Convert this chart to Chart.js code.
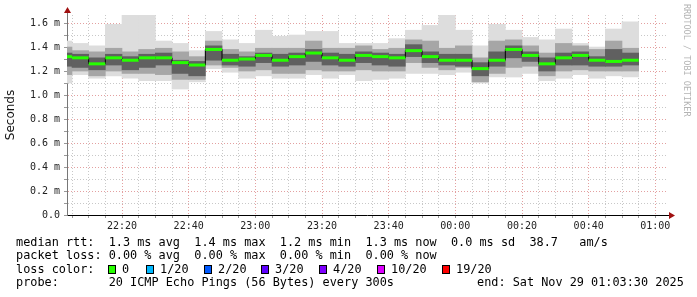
<!DOCTYPE html>
<html>
<head>
<meta charset="utf-8">
<script src="https://cdn.jsdelivr.net/npm/chart.js@4.4.1/dist/chart.umd.min.js"></script>
<style>
  html, body { margin: 0; padding: 0; background: #fff; }
  #wrap { position: relative; width: 697px; height: 297px; overflow: hidden; background: #fff; }
  #wrap canvas { position: absolute; left: 0; top: 0; }
  .txt { position: absolute; font-family: "DejaVu Sans Mono", monospace; font-size: 11.85px; line-height: 13px; color: #000; white-space: pre; }
  .box { position: absolute; width: 8px; height: 9px; border: 1px solid #000; box-sizing: border-box; }
  #credit { position: absolute; left: 682px; top: 4px; writing-mode: vertical-rl; font-family: "DejaVu Sans Mono", monospace; font-size: 8.5px; color: #b4b4b4; white-space: pre; }
</style>
</head>
<body>
<div id="wrap">
  <canvas id="graph" width="697" height="297"></canvas>
  <div id="credit">RRDTOOL / TOBI OETIKER</div>
  <div class="txt" style="left:16px;top:235.5px">median rtt:  1.3 ms avg  1.4 ms max  1.2 ms min  1.3 ms now  0.0 ms sd  38.7   am/s</div>
  <div class="txt" style="left:16px;top:249px">packet loss: 0.00 % avg  0.00 % max  0.00 % min  0.00 % now</div>
  <div class="txt" style="left:16px;top:262.5px">loss color:</div>
  <div id="losslegend"></div>
  <div class="txt" style="left:16px;top:276px">probe:       20 ICMP Echo Pings (56 Bytes) every 300s</div>
  <div class="txt" style="left:477px;top:276px">end: Sat Nov 29 01:03:30 2025</div>
</div>
<script>
// 5 minute bins (start time), values in ms
const binTimes = ['22:00','22:05','22:10','22:15','22:20','22:25','22:30','22:35','22:40','22:45',
                  '22:50','22:55','23:00','23:05','23:10','23:15','23:20','23:25','23:30','23:35',
                  '23:40','23:45','23:50','23:55','00:00','00:05','00:10','00:15','00:20','00:25',
                  '00:30','00:35','00:40','00:45','00:50'];
const rttMax = [1.45,1.43,1.41,1.59,1.67,1.67,1.45,1.43,1.37,1.53,
                1.46,1.43,1.54,1.49,1.50,1.53,1.53,1.43,1.43,1.43,
                1.47,1.54,1.58,1.67,1.54,1.41,1.59,1.54,1.48,1.46,
                1.55,1.43,1.40,1.55,1.61];
const rttMin = [1.10,1.17,1.14,1.16,1.14,1.12,1.12,1.05,1.11,1.22,
                1.19,1.14,1.16,1.14,1.14,1.17,1.14,1.17,1.12,1.13,
                1.14,1.18,1.18,1.17,1.19,1.10,1.15,1.15,1.18,1.12,
                1.14,1.17,1.14,1.16,1.15];
const smokeHi = [1.40,1.37,1.36,1.39,1.36,1.38,1.39,1.36,1.32,1.45,
                 1.38,1.36,1.39,1.39,1.39,1.45,1.39,1.39,1.41,1.38,
                 1.39,1.46,1.45,1.39,1.41,1.31,1.45,1.46,1.41,1.35,
                 1.43,1.41,1.38,1.45,1.39];
const smokeLo = [1.17,1.20,1.16,1.20,1.18,1.18,1.17,1.13,1.13,1.25,
                 1.23,1.20,1.21,1.18,1.18,1.21,1.20,1.20,1.21,1.20,
                 1.20,1.27,1.23,1.21,1.23,1.11,1.18,1.23,1.24,1.16,
                 1.20,1.21,1.20,1.20,1.20];
const coreHi = [1.35,1.34,1.31,1.34,1.32,1.34,1.35,1.29,1.28,1.41,
                1.34,1.32,1.35,1.34,1.35,1.38,1.35,1.34,1.36,1.35,
                1.34,1.42,1.36,1.34,1.34,1.27,1.36,1.41,1.36,1.31,
                1.35,1.36,1.32,1.38,1.35];
const coreLo = [1.24,1.23,1.21,1.25,1.21,1.23,1.25,1.18,1.16,1.29,
                1.25,1.24,1.27,1.24,1.25,1.28,1.25,1.24,1.27,1.25,
                1.24,1.32,1.27,1.25,1.24,1.16,1.24,1.31,1.28,1.20,
                1.25,1.25,1.24,1.24,1.25];
const rttMedian = [1.32,1.31,1.26,1.31,1.29,1.31,1.31,1.27,1.25,1.38,
                   1.29,1.30,1.33,1.29,1.32,1.35,1.31,1.29,1.33,1.32,
                   1.31,1.37,1.32,1.29,1.29,1.22,1.29,1.38,1.33,1.26,
                   1.31,1.33,1.29,1.28,1.29];

const xMajor = [20, 40, 60, 80, 100, 120, 140, 160, 180];
const xMajorLabels = ['22:20','22:40','23:00','23:20','23:40','00:00','00:20','00:40','01:00'];
const yMajor = [0, 0.2, 0.4, 0.6, 0.8, 1.0, 1.2, 1.4, 1.6];
const yMajorLabels = ['0.0','0.2 m','0.4 m','0.6 m','0.8 m','1.0 m','1.2 m','1.4 m','1.6 m'];

const lossNames = ['0','1/20','2/20','3/20','4/20','10/20','19/20'];
const lossColors = ['#26ff00','#00b8ff','#0059ff','#5e00ff','#7e00ff','#dd00ff','#ff0000'];
const lossBoxX = [108, 146, 204, 261, 319, 377, 442];

// minutes since 22:00
function toMin(t) {
  const [h, m] = t.split(':').map(Number);
  return (h >= 12 ? (h - 22) * 60 : (h + 2) * 60) + m;
}
const centers = binTimes.map(t => toMin(t) + 2.5);
const band = (lo, hi) => centers.map((x, i) => ({x: x, y: [lo[i], hi[i]]}));
const near = (arr, v) => arr.findIndex(a => Math.abs(a - v) < 1e-6);

// loss colour legend
const ll = document.getElementById('losslegend');
lossNames.forEach((n, i) => {
  const b = document.createElement('div');
  b.className = 'box';
  b.style.left = lossBoxX[i] + 'px';
  b.style.top = '264.5px';
  b.style.background = lossColors[i];
  ll.appendChild(b);
  const t = document.createElement('div');
  t.className = 'txt';
  t.style.left = (lossBoxX[i] + 14) + 'px';
  t.style.top = '262.5px';
  t.textContent = n;
  ll.appendChild(t);
});

const axisArrows = {
  id: 'axisArrows',
  afterDraw(chart) {
    const {ctx, chartArea: a} = chart;
    ctx.save();
    ctx.strokeStyle = '#777';
    ctx.lineWidth = 1;
    ctx.beginPath();
    ctx.moveTo(a.left + 0.5, a.top);
    ctx.lineTo(a.left + 0.5, a.top - 3);
    ctx.stroke();
    ctx.strokeStyle = '#000';
    ctx.beginPath();
    ctx.moveTo(a.right, a.bottom + 0.5);
    ctx.lineTo(a.right + 3, a.bottom + 0.5);
    ctx.stroke();
    ctx.fillStyle = '#a01010';
    ctx.beginPath();
    ctx.moveTo(a.left + 0.5, a.top - 8);
    ctx.lineTo(a.left - 3, a.top - 2);
    ctx.lineTo(a.left + 4, a.top - 2);
    ctx.closePath();
    ctx.fill();
    ctx.beginPath();
    ctx.moveTo(a.right + 8, a.bottom + 0.5);
    ctx.lineTo(a.right + 2, a.bottom - 3);
    ctx.lineTo(a.right + 2, a.bottom + 4);
    ctx.closePath();
    ctx.fill();
    ctx.restore();
  }
};

Chart.defaults.font.family = '"DejaVu Sans Mono", monospace';
Chart.defaults.font.size = 10;
Chart.defaults.color = '#222';

const gridCol = (major) => major ? '#e3a0a0' : '#c8c8c8';

new Chart(document.getElementById('graph'), {
  type: 'bar',
  data: {
    datasets: [
      {
        type: 'line', label: 'median', data: centers.map((x, i) => ({x: x, y: rttMedian[i]})),
        showLine: false, pointStyle: 'line', pointRadius: 8.34, pointBorderWidth: 3,
        pointBorderColor: '#26ff00', pointBackgroundColor: '#26ff00', clip: 0, order: 0
      },
      {
        type: 'line', label: 'step', data: centers.map((x, i) => ({x: x, y: rttMedian[i]})),
        stepped: 'middle', borderColor: '#000', borderWidth: 1, pointRadius: 0, clip: 0, order: 1
      },
      { label: 'core', data: band(coreLo, coreHi), backgroundColor: '#606060', order: 2 },
      { label: 'mid', data: band(smokeLo, smokeHi), backgroundColor: '#a6a6a6', order: 3 },
      { label: 'outer', data: band(rttMin, rttMax), backgroundColor: '#dddddd', order: 4 }
    ].map(d => d.type ? d : Object.assign(d, {grouped: false, borderWidth: 0, barPercentage: 1, categoryPercentage: 1}))
  },
  options: {
    responsive: false,
    animation: false,
    events: [],
    layout: { padding: { left: 0, right: 30, top: 15, bottom: 62 } },
    plugins: { legend: { display: false }, tooltip: { enabled: false } },
    scales: {
      x: {
        type: 'linear', min: 3.5, max: 183.5, offset: false, z: 1,
        afterFit: s => { s.height = 20; },
        afterBuildTicks: s => {
          const t = [];
          for (let m = 5; m <= 180; m += 5) t.push({value: m});
          s.ticks = t;
        },
        grid: {
          offset: false, drawTicks: true, tickLength: 3,
          color: c => gridCol(near(xMajor, c.tick.value) >= 0),
          tickColor: '#999'
        },
        border: { display: true, color: '#000', width: 1, dash: [1, 2] },
        ticks: {
          autoSkip: false, maxRotation: 0, padding: 2, color: '#222',
          callback: v => { const i = near(xMajor, v); return i >= 0 ? xMajorLabels[i] : ''; }
        }
      },
      y: {
        type: 'linear', min: 0, max: 1.667, z: 1,
        afterFit: s => { s.width = 67; },
        afterBuildTicks: s => {
          const t = [];
          for (let k = 0; k <= 16; k++) t.push({value: k / 10});
          s.ticks = t;
        },
        grid: {
          drawTicks: true, tickLength: 3,
          color: c => gridCol(near(yMajor, c.tick.value) >= 0),
          tickColor: '#999'
        },
        border: { display: true, color: '#777', width: 1, dash: [1, 2] },
        ticks: {
          autoSkip: false, padding: 4, color: '#222',
          callback: v => { const i = near(yMajor, v); return i >= 0 ? yMajorLabels[i] : ''; }
        },
        title: {
          display: true, text: 'Seconds', color: '#111',
          font: { family: '"DejaVu Sans", sans-serif', size: 12 },
          padding: { top: 4, bottom: 0 }
        }
      }
    }
  },
  plugins: [axisArrows]
});
</script>
</body>
</html>
